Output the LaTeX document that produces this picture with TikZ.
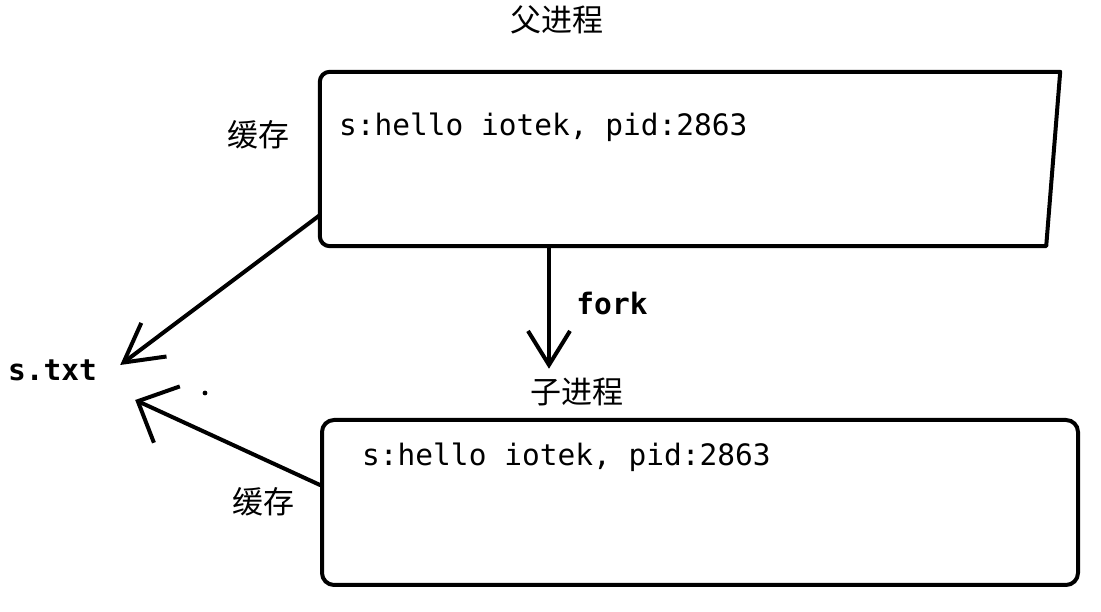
\documentclass[tikz,border=0pt]{standalone}
\usepackage{fontspec}
\setmonofont{DejaVu Sans Mono}
\newfontfamily\cjk{Noto Sans CJK SC}
\usepackage{tikz}
\usetikzlibrary{arrows.meta, positioning}
\tikzset{
    outline/.style = {line width=4pt, line join=round},
    procbox/.style = {rectangle, minimum width=740pt, minimum height=174pt, inner sep=0pt},
    childbox/.style = {rectangle, rounded corners=12pt, draw=black, line width=4pt, minimum width=756pt, minimum height=165pt, inner sep=0pt},
    cjklabel/.style = {inner sep=1pt, font=\cjk\fontsize{31}{34}\selectfont},
    codelabel/.style = {inner sep=1pt, font=\ttfamily\fontsize{29.5}{33}\selectfont},
    boldlabel/.style = {codelabel, font=\ttfamily\bfseries\fontsize{29.5}{33}\selectfont},
    arrow/.style = {line width=4pt, line cap=round}
}

\begin{document}
\begin{tikzpicture}[x=1pt, y=1pt]
\useasboundingbox (0,0) rectangle (1101,612);

% ---- parent process (top) ----
\node[procbox] (parent) at (690,453) {};
\draw[outline] (parent.north east) -- ([xshift=-14pt]parent.south east)
  -- ([xshift=10pt]parent.south west) arc[start angle=270, end angle=180, radius=10pt]
  -- ([yshift=-10pt]parent.north west) arc[start angle=180, end angle=90, radius=10pt]
  -- cycle;
\node[codelabel, anchor=west] (parenttext) at ([xshift=18pt, yshift=-55pt]parent.north west) {s:hello iotek, pid:2863};
\node[cjklabel] (parentlbl) at (557,592) {父进程};
\node[cjklabel] (parentbuf) at (258,477) {缓存};

% ---- child process (bottom) ----
\node[childbox] (child) at (700,109.5) {};
\node[codelabel, anchor=west] (childtext) at ([xshift=41pt, yshift=-39pt]child.north west) {s:hello iotek, pid:2863};
\node[cjklabel] (childlbl) at (577,220) {子进程};
\node[cjklabel] (childbuf) at (263,110) {缓存};

% ---- file ----
\node[boldlabel, anchor=west] (stxt) at (7,242) {s.txt};
\fill (205,219) circle (2.4pt);

% ---- Arrows ----
\draw[arrow, -{Straight Barb[length=34pt, width=42pt, line width=4pt]}]
  ([xshift=-141pt]parent.south) -- ([xshift=-28pt, yshift=8pt]childlbl.north);
\node[boldlabel] (forklbl) at (612,308) {fork};
\draw[arrow, -{Straight Barb[length=38pt, width=42pt, line width=4pt]}]
  ([yshift=31pt]parent.south west) -- ([xshift=22pt, yshift=5pt]stxt.east);
\draw[arrow, -{Straight Barb[length=32pt, width=62pt, line width=4pt]}]
  ([yshift=-67pt]child.north west) -- ([xshift=37pt, yshift=-30pt]stxt.east);

\end{tikzpicture}
\end{document}
